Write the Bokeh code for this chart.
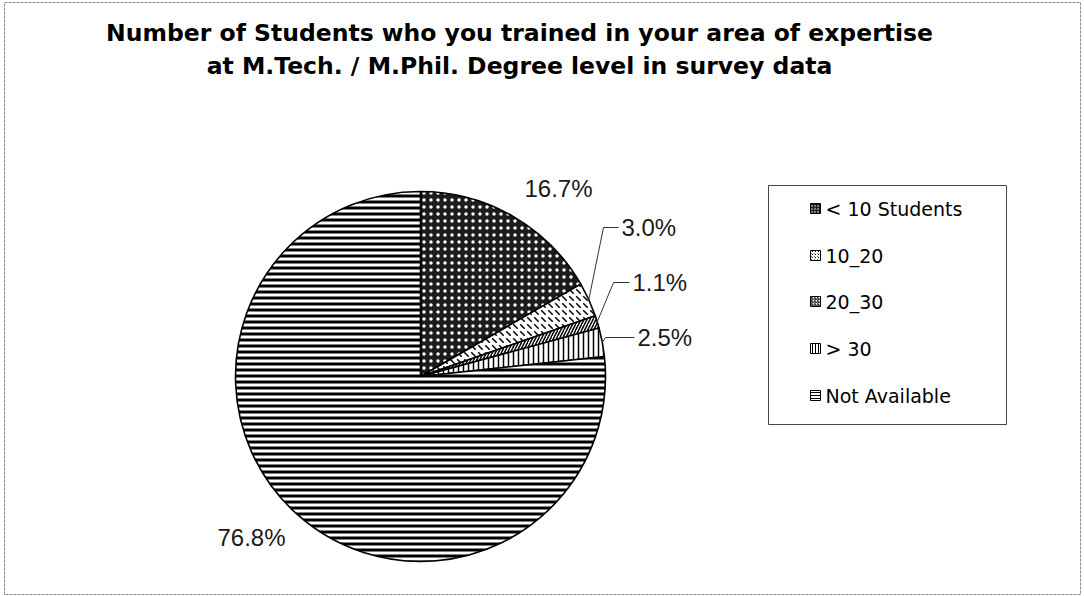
import numpy as np
from bokeh.plotting import figure
from bokeh.models import ColumnDataSource, Range1d
from bokeh.core.properties import value
from bokeh.embed import file_html
from bokeh.resources import INLINE

# ---- data ----
title_lines = ["Number of Students who you trained in your area of expertise",
               "at M.Tech. / M.Phil. Degree level in survey data"]
categories = ["< 10 Students", "10_20", "20_30", "> 30", "Not Available"]
percents = [16.7, 3.0, 1.1, 2.5, 76.8]
pct_labels = ["16.7%", "3.0%", "1.1%", "2.5%", "76.8%"]

# ---- styles / layout ----
W, H = 1084, 596
CX, CY, R = 420, H - 376, 185
fills = ["#1c1c1c", "white", "white", "white", "white"]
hatches = ["dot", "left_diagonal_dash", "right_diagonal_line", "vertical_line", "horizontal_line"]
hatch_colors = ["white", "black", "black", "black", "black"]
hatch_scales = [7, 7, 6, 5, 6]
hatch_weights = [2.2, 1.5, 1.5, 1.5, 3.0]
# label anchor positions (pixel coordinates from top) and alignment
lab_x = [558, 621, 632, 637, 251]
lab_y = [188, 227, 282, 337, 537]
lab_align = ["center", "left", "left", "left", "center"]
# leader elbows for small slices (None = no leader)
elbow = [None, (603, 227), (613, 282), (605, 337), None]

vals = np.array(percents, dtype=float)
frac = vals / vals.sum()
c1 = np.cumsum(frac)
c0 = c1 - frac
start = np.pi / 2 - 2 * np.pi * c1
end = np.pi / 2 - 2 * np.pi * c0
mid = 2 * np.pi * (c0 + c1) / 2

p = figure(width=W, height=H, output_backend="svg", toolbar_location=None,
           x_range=Range1d(0, W), y_range=Range1d(0, H), min_border=0)
p.axis.visible = False
p.grid.visible = False
p.outline_line_color = None
p.background_fill_color = "white"

# outer chart frame
p.rect(x=[(4 + 1080) / 2], y=[H - (2 + 594) / 2], width=[1076], height=[592],
       fill_color=None, line_color="#8a8a8a", line_width=1, line_dash="3 1")

src = ColumnDataSource(dict(start=start, end=end, fill=fills, hatch=hatches,
                            hc=hatch_colors, hs=hatch_scales, hw=hatch_weights))
p.wedge(x=CX, y=CY, radius=R, start_angle="start", end_angle="end",
        direction="anticlock", source=src, fill_color="fill",
        hatch_pattern="hatch", hatch_color="hc", hatch_scale="hs", hatch_weight="hw",
        line_color="black", line_width=1.6)

# leader lines
for i, e in enumerate(elbow):
    if e is None:
        continue
    rx = CX + R * np.sin(mid[i])
    ry = CY + R * np.cos(mid[i])
    ex, ey = e
    p.line(x=[rx, ex, lab_x[i] - 3], y=[ry, H - ey, H - ey], line_color="#333333", line_width=1)

# percentage labels
for i in range(len(pct_labels)):
    p.text(x=[lab_x[i]], y=[H - lab_y[i]], text=[pct_labels[i]],
           text_font=value("Liberation Sans"), text_font_size="24px",
           text_color="#1a1a1a", text_align=lab_align[i], text_baseline="middle")

# title
for k, t in enumerate(title_lines):
    p.text(x=[519], y=[H - (32 + 33 * k)], text=[t], text_font=value("DejaVu Sans"),
           text_font_style="bold", text_font_size="23.5px", text_color="black",
           text_align="center", text_baseline="middle")

# legend
LX0, LX1, LY0, LY1 = 768, 1006, 185, 424
p.rect(x=[(LX0 + LX1) / 2], y=[H - (LY0 + LY1) / 2], width=[LX1 - LX0], height=[LY1 - LY0],
       fill_color="white", line_color="#444444", line_width=1)
leg_y = [208, 255, 301, 348, 395]
for i, c in enumerate(categories):
    p.rect(x=[815], y=[H - leg_y[i]], width=[10], height=[10], fill_color=fills[i],
           hatch_pattern=hatches[i], hatch_color=hatch_colors[i], hatch_scale=3,
           hatch_weight=1, line_color="black", line_width=1)
    p.text(x=[825], y=[H - leg_y[i]], text=[c], text_font=value("DejaVu Sans"),
           text_font_size="19px", text_color="black", text_align="left",
           text_baseline="middle")

open("out.html", "w").write(file_html(p, INLINE))
